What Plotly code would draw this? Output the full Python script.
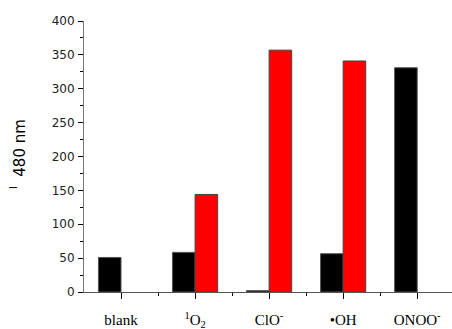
import plotly.graph_objects as go

# Species tested and emission intensity at 480 nm
categories = ["blank", "<sup>1</sup>O<sub>2</sub>", "ClO<sup>-</sup>", "\u2022OH", "ONOO<sup>-</sup>"]
black_values = [51, 58.5, 2, 56.5, 331]
red_values = [None, 144, 357, 341, None]
y_ticks = [0, 50, 100, 150, 200, 250, 300, 350, 400]

positions = list(range(len(categories)))

fig = go.Figure()
fig.add_trace(go.Bar(
    x=positions, y=black_values, width=0.305, offset=-0.305,
    marker=dict(color="#000000", line=dict(color="#555555", width=1)),
    showlegend=False,
))
fig.add_trace(go.Bar(
    x=positions, y=red_values, width=0.305, offset=0,
    marker=dict(color="#ff0000", line=dict(color="#444444", width=1)),
    showlegend=False,
))

fig.update_layout(
    width=452, height=329,
    margin=dict(l=84, r=0, t=21, b=37),
    plot_bgcolor="white", paper_bgcolor="white",
    barmode="overlay",
    xaxis=dict(
        range=[-0.5, 4.47],
        tickmode="array", tickvals=positions, ticktext=categories,
        ticks="outside", ticklen=6, tickcolor="#000000", tickwidth=1,
        minor=dict(tickvals=[0.5, 1.5, 2.5, 3.5], ticks="outside", ticklen=3,
                   tickcolor="#000000", tickwidth=1),
        showline=True, linecolor="#555555", linewidth=1,
        showgrid=False, zeroline=False,
        tickfont=dict(family="Liberation Serif, Times New Roman, serif", size=15, color="#000000"),
        ticklabelstandoff=8,
        automargin=False,
        fixedrange=True,
    ),
    yaxis=dict(
        range=[0, 400],
        tickmode="array", tickvals=y_ticks,
        ticks="outside", ticklen=5, tickcolor="#000000", tickwidth=1,
        minor=dict(tickvals=[25, 75, 125, 175, 225, 275, 325, 375], ticks="outside",
                   ticklen=3, tickcolor="#000000", tickwidth=1),
        showline=True, linecolor="#777777", linewidth=1,
        showgrid=False, zeroline=False,
        tickfont=dict(family="DejaVu Sans, Arial, sans-serif", size=12, color="#222222"),
        ticklabelstandoff=1,
        automargin=False,
        fixedrange=True,
    ),
)

# Axis title: I with subscript 480 nm, rotated
fig.add_annotation(
    text="I", xref="paper", yref="paper", x=-0.19, y=0.384,
    xanchor="center", yanchor="middle", textangle=-90, showarrow=False,
    font=dict(family="Liberation Sans, Arial, sans-serif", size=10, color="#000000"),
)
fig.add_annotation(
    text="480 nm", xref="paper", yref="paper", x=-0.175, y=0.531,
    xanchor="center", yanchor="middle", textangle=-90, showarrow=False,
    font=dict(family="DejaVu Sans, Arial, sans-serif", size=15, color="#000000"),
)

fig.write_html("out.html")
